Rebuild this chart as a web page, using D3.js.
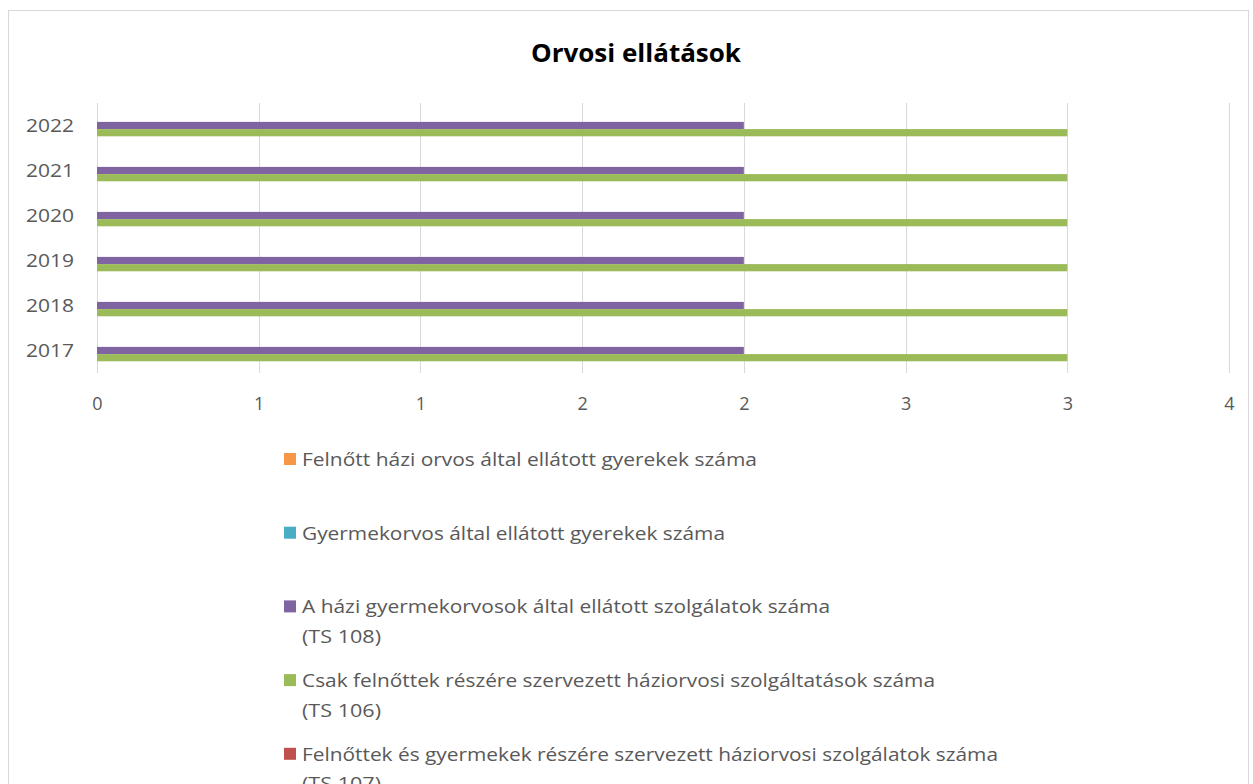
<!DOCTYPE html>
<html>
<head>
<meta charset="utf-8">
<script src="https://cdn.jsdelivr.net/npm/d3@7"></script>
<style>
  body { margin: 0; background: #fff; }
  text { font-family: "Liberation Sans Narrow", "Open Sans", sans-serif; }
</style>
</head>
<body>
<div id="chart-area"></div>
<script>
// data
const years = ['2017', '2018', '2019', '2020', '2021', '2022'];
const seriesNames = [
  ['Felnőtt házi orvos által ellátott gyerekek száma'],
  ['Gyermekorvos által ellátott gyerekek száma'],
  ['A házi gyermekorvosok által ellátott szolgálatok száma', '(TS 108)'],
  ['Csak felnőttek részére szervezett háziorvosi szolgáltatások száma', '(TS 106)'],
  ['Felnőttek és gyermekek részére szervezett háziorvosi szolgálatok száma', '(TS 107)']
];
const adultGP = [0, 0, 0, 0, 0, 0];
const pediatrician = [0, 0, 0, 0, 0, 0];
const ts108 = [2, 2, 2, 2, 2, 2];
const ts106 = [3, 3, 3, 3, 3, 3];
const ts107 = [0, 0, 0, 0, 0, 0];
const seriesValues = [adultGP, pediatrician, ts108, ts106, ts107];
const colors = ['#F79646', '#4BACC6', '#8064A2', '#9BBB59', '#C0504D'];
const xTicks = [0, 0.5, 1, 1.5, 2, 2.5, 3, 3.5];

const W = 1253, H = 784;
const plot = { left: 97, right: 1229, top: 103, bottom: 373 };

const svg = d3.select('#chart-area').append('svg')
  .attr('width', W)
  .attr('height', H);

// chart border
svg.append('rect')
  .attr('x', 8.5).attr('y', 10.5)
  .attr('width', 1240).attr('height', 800)
  .attr('fill', 'none')
  .attr('stroke', '#d9d9d9');

// title
svg.append('text')
  .attr('x', 636).attr('y', 62)
  .attr('text-anchor', 'middle')
  .attr('font-size', '25px')
  .attr('font-weight', 'bold')
  .attr('font-family', '"Open Sans", sans-serif')
  .attr('fill', '#000')
  .attr('textLength', 210)
  .attr('lengthAdjust', 'spacingAndGlyphs')
  .text('Orvosi ellátások');

const x = d3.scaleLinear()
  .domain([0, 3.5])
  .range([plot.left, plot.right]);

const y0 = d3.scaleBand()
  .domain(years.slice().reverse())
  .range([plot.top, plot.bottom])
  .paddingInner(0.2)
  .paddingOuter(0.1);

const y1 = d3.scaleBand()
  .domain(d3.range(seriesValues.length))
  .range([0, y0.bandwidth()]);

// gridlines
svg.append('g')
  .selectAll('line')
  .data(xTicks)
  .join('line')
    .attr('x1', d => Math.round(x(d)) + 0.5)
    .attr('x2', d => Math.round(x(d)) + 0.5)
    .attr('y1', plot.top)
    .attr('y2', plot.bottom)
    .attr('stroke', '#d9d9d9')
    .attr('stroke-width', 1);

// bars
const groups = svg.append('g')
  .selectAll('g')
  .data(years)
  .join('g')
    .attr('transform', d => `translate(0,${y0(d)})`);

groups.selectAll('rect')
  .data((yr, i) => seriesValues.map((s, k) => ({ k: k, v: s[i] })))
  .join('rect')
    .attr('x', x(0))
    .attr('y', d => y1(d.k))
    .attr('width', d => x(d.v) - x(0))
    .attr('height', y1.bandwidth())
    .attr('fill', d => colors[d.k]);

// x axis
const xAxis = svg.append('g')
  .attr('transform', `translate(0,${plot.bottom})`)
  .call(d3.axisBottom(x).tickValues(xTicks).tickFormat(d => Math.round(d)).tickSize(0).tickPadding(24));
xAxis.select('.domain').remove();
xAxis.selectAll('text')
  .attr('font-size', '18px')
  .attr('fill', '#595959')
  .attr('font-family', '"Open Sans", sans-serif');

// y axis
const yAxis = svg.append('g')
  .attr('transform', `translate(${plot.left},0)`)
  .call(d3.axisLeft(y0).tickSize(0).tickPadding(23));
yAxis.select('.domain').remove();
yAxis.selectAll('text')
  .attr('font-size', '19px')
  .attr('fill', '#595959')
  .attr('font-family', '"Open Sans", sans-serif')
  .attr('textLength', 48)
  .attr('lengthAdjust', 'spacingAndGlyphs');

// legend
const lineWidths = [[455], [423], [528, 79], [633, 79], [696, 79]];
const legend = svg.append('g')
  .selectAll('g')
  .data(seriesNames)
  .join('g')
    .attr('transform', (d, i) => `translate(284,${459 + i * 73.7})`);

legend.append('rect')
  .attr('x', 0).attr('y', -6)
  .attr('width', 12).attr('height', 12)
  .attr('fill', (d, i) => colors[i]);

legend.each(function (lines, i) {
  const g = d3.select(this);
  lines.forEach((ln, j) => {
    g.append('text')
      .attr('x', 18)
      .attr('y', 7 + j * 29.5)
      .attr('font-size', '19px')
      .attr('fill', '#595959')
      .attr('textLength', lineWidths[i][j])
      .attr('lengthAdjust', 'spacingAndGlyphs')
      .text(ln);
  });
});
</script>
</body>
</html>
